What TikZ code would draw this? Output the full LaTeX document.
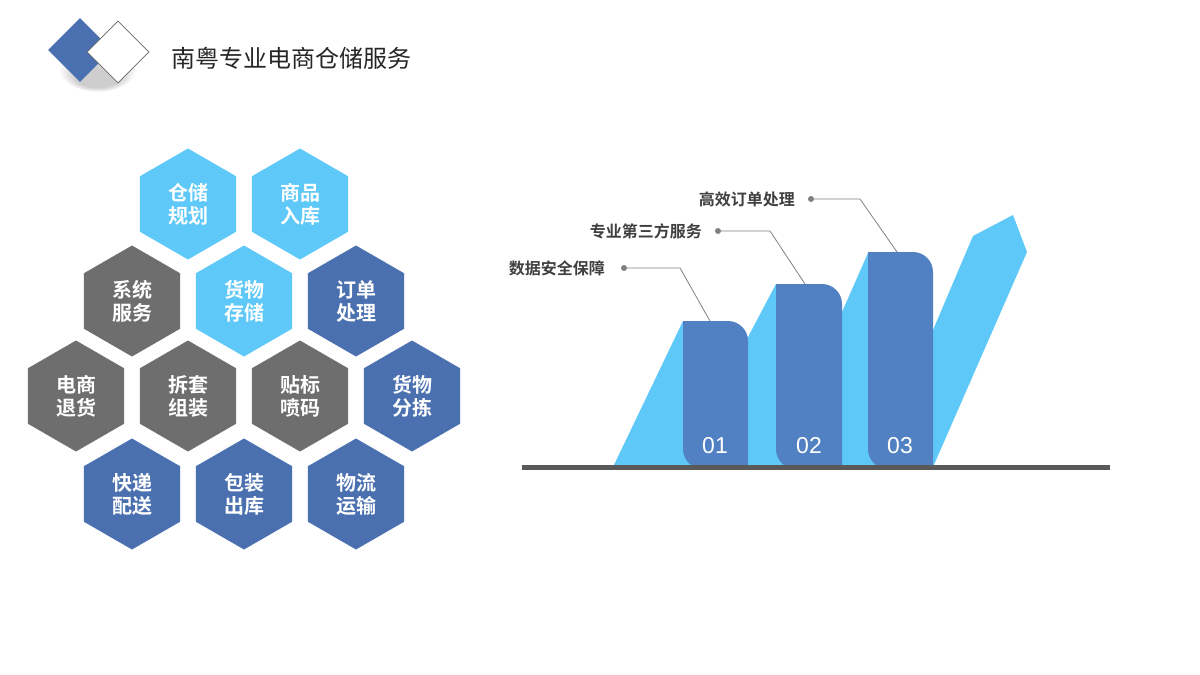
\documentclass[tikz,border=0pt]{standalone}
\usepackage{fontspec}
\setmainfont{Liberation Sans}
\newfontfamily\cjk{Noto Sans CJK SC}
\newfontfamily\cjkb{Noto Sans CJK SC Bold}
\usetikzlibrary{shapes.geometric}
\definecolor{lb}{HTML}{5EC8F8}
\definecolor{hb}{HTML}{4A70B0}
\definecolor{hg}{HTML}{6E6E6E}
\definecolor{bar}{HTML}{5181C2}
\tikzset{
 hex/.style={regular polygon,regular polygon sides=6,shape border rotate=30,minimum size=111pt,inner sep=0pt,text=white,font=\cjkb\fontsize{20}{23}\selectfont,align=center},
 lab/.style={font=\cjkb\fontsize{16}{18}\selectfont,text=black!75,anchor=east,inner sep=0pt},
 dot/.style={circle,fill=black!50,inner sep=0pt,minimum size=6pt},
 lead/.style={draw=black!50,line width=0.8pt},
 num/.style={text=white,font=\fontsize{23}{26}\selectfont}
}
\begin{document}
\begin{tikzpicture}[x=1pt,y=-1pt]
\useasboundingbox (0,0) rectangle (1200,675);
% logo
\foreach \i in {0,...,8}{\fill[black,opacity=0.025] (98,70+\i) ellipse[x radius=38-2*\i, y radius=22-1.5*\i];}
\node[fill=hb,diamond,minimum size=64pt,inner sep=0pt] (d1) at (80,50) {};
\node[draw=black!60,line width=0.8pt,fill=white,diamond,minimum size=62pt,inner sep=0pt] (d2) at (118,52) {};
\node[font=\cjk\fontsize{24}{28}\selectfont,anchor=west,text=black!85] (title) at (168,58) {南粤专业电商仓储服务};
% hexes
\node[hex,fill=lb] (h1) at (188,204) {仓储\\规划};
\node[hex,fill=lb] (h2) at (300,204) {商品\\入库};
\node[hex,fill=hg] (h3) at (132,301) {系统\\服务};
\node[hex,fill=lb] (h4) at (244,301) {货物\\存储};
\node[hex,fill=hb] (h5) at (356,301) {订单\\处理};
\node[hex,fill=hg] (h6) at (76,396) {电商\\退货};
\node[hex,fill=hg] (h7) at (188,396) {拆套\\组装};
\node[hex,fill=hg] (h8) at (300,396) {贴标\\喷码};
\node[hex,fill=hb] (h9) at (412,396) {货物\\分拣};
\node[hex,fill=hb] (h10) at (132,494) {快递\\配送};
\node[hex,fill=hb] (h11) at (244,494) {包装\\出库};
\node[hex,fill=hb] (h12) at (356,494) {物流\\运输};
% ribbon
\fill[lb] (613,467) -- (683,321) -- (748,337) -- (776,284) -- (842,312) -- (868,253) -- (933,330) -- (973,236) -- (1013,215) -- (1027,252) -- (933,467) -- cycle;
% bars
\fill[bar] (683,321) -- (728,321) arc[start angle=270,end angle=360,radius=20] -- (748,469) -- (703,469) arc[start angle=90,end angle=180,radius=20] -- cycle;
\fill[bar] (776,284) -- (822,284) arc[start angle=270,end angle=360,radius=20] -- (842,469) -- (796,469) arc[start angle=90,end angle=180,radius=20] -- cycle;
\fill[bar] (868,252) -- (913,252) arc[start angle=270,end angle=360,radius=20] -- (933,469) -- (888,469) arc[start angle=90,end angle=180,radius=20] -- cycle;
\node[num] (n1) at (715,446) {01};
\node[num] (n2) at (809,446) {02};
\node[num] (n3) at (900,446) {03};
\fill[black!65] (522,465) rectangle (1110,470);
% labels
\node[lab] (l1) at (605,268) {数据安全保障};
\node[dot] (p1) at (624,268) {};
\coordinate (c1) at (680,268); \coordinate (e1) at (710,321);
\draw[lead] (p1) -- (c1) -- (e1);
\node[lab] (l2) at (702,231) {专业第三方服务};
\node[dot] (p2) at (718,231) {};
\coordinate (c2) at (770,231); \coordinate (e2) at (805,284);
\draw[lead] (p2) -- (c2) -- (e2);
\node[lab] (l3) at (795,199) {高效订单处理};
\node[dot] (p3) at (811,199) {};
\coordinate (c3) at (860,199); \coordinate (e3) at (897,252);
\draw[lead] (p3) -- (c3) -- (e3);
\end{tikzpicture}
\end{document}
